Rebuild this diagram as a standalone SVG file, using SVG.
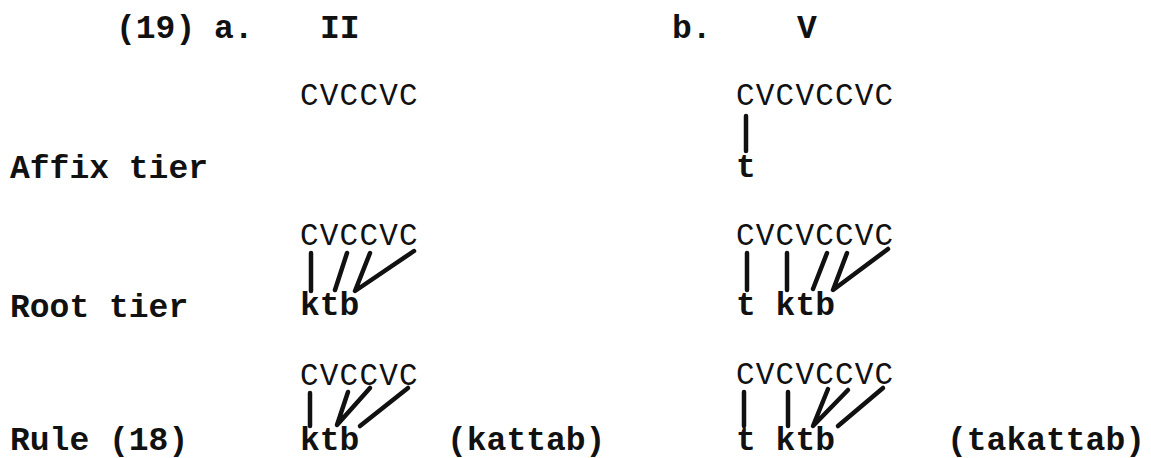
<svg xmlns="http://www.w3.org/2000/svg" width="1151" height="458" viewBox="0 0 1151 458">
<style>
.lab{font-family:"Liberation Mono","Courier New",monospace;font-weight:bold;font-size:33px;fill:#111}
.cv{font-family:"Liberation Mono","Courier New",monospace;font-size:31px;letter-spacing:1.2px;fill:#111}
.ln{stroke:#111;stroke-width:4.5;stroke-linecap:round;stroke-linejoin:round;fill:none}
</style>
<rect width="1151" height="458" fill="#fff"/>
<g id="header">
<text class="lab" x="116" y="38">(19)</text>
<text class="lab" x="214" y="38">a.</text>
<text class="lab" x="320" y="38">II</text>
<text class="lab" x="672" y="38">b.</text>
<text class="lab" x="797" y="38">V</text>
</g>
<g id="labels">
<text class="lab" x="10" y="178">Affix tier</text>
<text class="lab" x="10" y="317">Root tier</text>
<text class="lab" x="10" y="450">Rule (18)</text>
</g>
<g id="a-template"><text class="cv" x="300" y="105">CVCCVC</text></g>
<g id="b-template"><text class="cv" x="736" y="105">CVCVCCVC</text></g>
<g id="b-affix"><text class="lab" x="736" y="177">t</text></g>
<g id="a-root-cv"><text class="cv" x="300" y="245">CVCCVC</text></g>
<g id="a-root"><text class="lab" x="300" y="315">ktb</text></g>
<g id="b-root-cv"><text class="cv" x="736" y="245">CVCVCCVC</text></g>
<g id="b-root"><text class="lab" x="736" y="315">t ktb</text></g>
<g id="a-rule-cv"><text class="cv" x="300" y="385">CVCCVC</text></g>
<g id="a-rule"><text class="lab" x="300" y="450">ktb</text><text class="lab" x="447" y="450">(kattab)</text></g>
<g id="b-rule-cv"><text class="cv" x="736" y="384">CVCVCCVC</text></g>
<g id="b-rule"><text class="lab" x="736" y="450">t ktb</text><text class="lab" x="947" y="450">(takattab)</text></g>
<g id="connectors">
<line class="ln" x1="746" y1="116" x2="746" y2="151"/>
<line class="ln" x1="311" y1="253" x2="311" y2="291"/>
<line class="ln" x1="347" y1="253" x2="335" y2="290"/>
<polyline class="ln" points="370,253 355,291 414,251"/>
<line class="ln" x1="747" y1="253" x2="747" y2="290"/>
<line class="ln" x1="787" y1="253" x2="787" y2="290"/>
<line class="ln" x1="827" y1="253" x2="813" y2="289"/>
<polyline class="ln" points="847,253 833,290 888,249"/>
<line class="ln" x1="310" y1="393" x2="310" y2="426"/>
<polyline class="ln" points="348,392 337,425 370,388"/>
<line class="ln" x1="360" y1="426" x2="408" y2="388"/>
<line class="ln" x1="744" y1="392" x2="744" y2="426"/>
<line class="ln" x1="788" y1="392" x2="788" y2="426"/>
<polyline class="ln" points="828,389 813,426 848,390"/>
<line class="ln" x1="838" y1="426" x2="883" y2="388"/>
</g>
</svg>
